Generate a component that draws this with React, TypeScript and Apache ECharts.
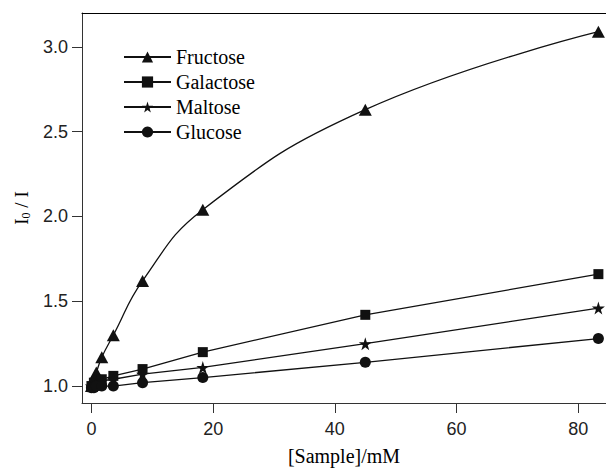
import React, { useEffect, useRef } from "react";
import * as echarts from "echarts";

// Sample concentration (mM) shared by every sugar
const concentration = [0, 0.4, 0.8, 1.7, 3.6, 8.4, 18.3, 45, 83.3];

// Relative intensity I0 / I for each sugar
const fructose = [1.0, 1.04, 1.08, 1.17, 1.3, 1.62, 2.04, 2.63, 3.09];
const galactose = [1.0, 1.02, 1.03, 1.04, 1.06, 1.1, 1.2, 1.42, 1.66];
const maltose = [1.0, 1.01, 1.02, 1.03, 1.04, 1.07, 1.11, 1.25, 1.46];
const glucose = [0.99, 0.99, 1.0, 1.0, 1.0, 1.02, 1.05, 1.14, 1.28];

const xTicks = [0, 20, 40, 60, 80];
const yTicks = [1.0, 1.5, 2.0, 2.5, 3.0];

const STAR =
  "path://M50,0 L61,35 L98,35 L68,57 L79,91 L50,70 L21,91 L32,57 L2,35 L39,35 Z";

const SERIF = "'Liberation Serif', 'DejaVu Serif', serif";
const SANS = "'Liberation Sans', Arial, sans-serif";
const INK = "#111";

const pairs = (ys: number[]) => concentration.map((x, i) => [x, ys[i]]);

export default function App() {
  const ref = useRef<HTMLDivElement>(null);

  useEffect(() => {
    if (!ref.current) return;
    const chart = echarts.init(ref.current, undefined, { renderer: "svg" });

    const line = (
      name: string,
      ys: number[],
      symbol: string,
      symbolSize: number | number[],
      smooth: boolean | number
    ) => ({
      name,
      type: "line",
      data: pairs(ys),
      symbol,
      symbolSize,
      smooth,
      showAllSymbol: true,
      lineStyle: { color: INK, width: 1.3 },
      itemStyle: { color: INK, borderWidth: 0 },
      z: 3,
    });

    chart.setOption({
      animation: false,
      backgroundColor: "#fff",
      grid: { left: 82, right: 0, top: 13, bottom: 69 },
      legend: {
        orient: "vertical",
        left: 118,
        top: 42,
        itemWidth: 47,
        itemHeight: 14,
        itemGap: 5,
        textStyle: { fontFamily: SERIF, fontSize: 20, color: "#000" },
        data: ["Fructose", "Galactose", "Maltose", "Glucose"],
      },
      xAxis: [
        {
          type: "value",
          min: -1.55,
          max: 84.55,
          name: "[Sample]/mM",
          nameLocation: "middle",
          nameGap: 43,
          nameTextStyle: { fontFamily: SERIF, fontSize: 20, color: "#000" },
          axisLine: { onZero: false, lineStyle: { color: "#333", width: 1 } },
          axisTick: {
            customValues: xTicks,
            length: 10,
            lineStyle: { color: "#333" },
          },
          axisLabel: {
            customValues: xTicks,
            margin: 17,
            fontFamily: SANS,
            fontSize: 18,
            color: "#222",
          },
          splitLine: { show: false },
        },
        {
          type: "value",
          position: "top",
          min: -1.55,
          max: 84.55,
          axisLine: { show: true, lineStyle: { color: "#000", width: 1 } },
          axisTick: { show: false },
          axisLabel: { show: false },
          splitLine: { show: false },
        },
      ],
      yAxis: {
        type: "value",
        min: 0.9,
        max: 3.2,
        name: "{i|I}{s|0}{i| / I}",
        nameLocation: "middle",
        nameGap: 50,
        nameTextStyle: {
          fontFamily: SERIF,
          color: "#000",
          rich: {
            i: { fontFamily: SERIF, fontSize: 19, color: "#000" },
            s: {
              fontFamily: SERIF,
              fontSize: 12,
              color: "#000",
              verticalAlign: "bottom",
              padding: [9, 0, 0, 0],
            },
          },
        },
        axisLine: { show: true, onZero: false, lineStyle: { color: "#333", width: 1 } },
        axisTick: {
          show: true,
          customValues: yTicks,
          length: 10,
          lineStyle: { color: "#333" },
        },
        axisLabel: {
          customValues: yTicks,
          margin: 14,
          fontFamily: SANS,
          fontSize: 18,
          color: "#222",
          formatter: (v: number) => v.toFixed(1),
        },
        splitLine: { show: false },
      },
      series: [
        line("Fructose", fructose, "triangle", [13, 12], 0.45),
        line("Galactose", galactose, "rect", 10, false),
        line("Maltose", maltose, STAR, 13, false),
        line("Glucose", glucose, "circle", 11, false),
      ],
    });

    return () => chart.dispose();
  }, []);

  return (
    <div
      ref={ref}
      style={{ position: "absolute", left: 0, top: 0, width: 606, height: 472 }}
    />
  );
}
